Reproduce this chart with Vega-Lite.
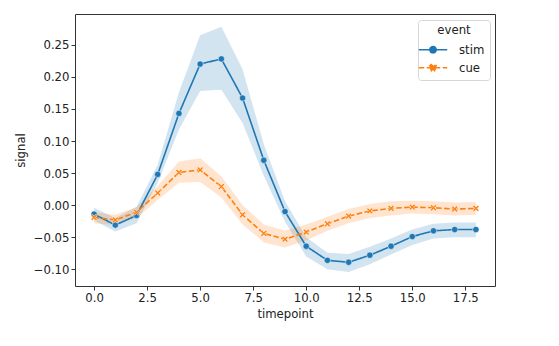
{
  "$schema": "https://vega.github.io/schema/vega-lite/v6.json",
  "width": 420,
  "height": 272,
  "autosize": "none",
  "padding": {"left": 75, "top": 14, "right": 64, "bottom": 60},
  "background": "white",
  "config": {
    "font": "DejaVu Sans",
    "view": {"stroke": "#333333", "strokeWidth": 1},
    "axis": {"labelFontSize": 11.7, "titleFontSize": 11.7, "titleFontWeight": "normal", "labelColor": "#222222", "titleColor": "#222222", "tickColor": "#333333", "domain": false, "grid": false, "tickSize": 4, "labelOverlap": false, "labelPadding": 2},
    "axisX": {"titlePadding": 5},
    "axisY": {"titlePadding": 7},
    "legend": {"orient": "top-right", "offset": 5.5, "fillColor": "white", "strokeColor": "#d6d6d6", "padding": 5, "cornerRadius": 3, "titleAnchor": "middle", "titleFontSize": 11.7, "titleFontWeight": "normal", "labelFontSize": 11.7, "titleColor": "#222222", "labelColor": "#222222", "symbolSize": 324, "rowPadding": 1, "titlePadding": 3, "labelOffset": 16}
  },
  "data": {"values": [
    {"timepoint": 0, "event": "stim", "signal": -0.014, "lo": -0.024, "hi": -0.004},
    {"timepoint": 1, "event": "stim", "signal": -0.031, "lo": -0.041, "hi": -0.020},
    {"timepoint": 2, "event": "stim", "signal": -0.016, "lo": -0.028, "hi": -0.003},
    {"timepoint": 3, "event": "stim", "signal": 0.048, "lo": 0.035, "hi": 0.063},
    {"timepoint": 4, "event": "stim", "signal": 0.143, "lo": 0.118, "hi": 0.176},
    {"timepoint": 5, "event": "stim", "signal": 0.220, "lo": 0.178, "hi": 0.265},
    {"timepoint": 6, "event": "stim", "signal": 0.228, "lo": 0.180, "hi": 0.278},
    {"timepoint": 7, "event": "stim", "signal": 0.167, "lo": 0.128, "hi": 0.212},
    {"timepoint": 8, "event": "stim", "signal": 0.070, "lo": 0.046, "hi": 0.095},
    {"timepoint": 9, "event": "stim", "signal": -0.010, "lo": -0.026, "hi": 0.006},
    {"timepoint": 10, "event": "stim", "signal": -0.064, "lo": -0.080, "hi": -0.050},
    {"timepoint": 11, "event": "stim", "signal": -0.086, "lo": -0.100, "hi": -0.074},
    {"timepoint": 12, "event": "stim", "signal": -0.089, "lo": -0.104, "hi": -0.076},
    {"timepoint": 13, "event": "stim", "signal": -0.078, "lo": -0.092, "hi": -0.065},
    {"timepoint": 14, "event": "stim", "signal": -0.064, "lo": -0.077, "hi": -0.052},
    {"timepoint": 15, "event": "stim", "signal": -0.049, "lo": -0.062, "hi": -0.038},
    {"timepoint": 16, "event": "stim", "signal": -0.040, "lo": -0.052, "hi": -0.029},
    {"timepoint": 17, "event": "stim", "signal": -0.038, "lo": -0.050, "hi": -0.027},
    {"timepoint": 18, "event": "stim", "signal": -0.038, "lo": -0.050, "hi": -0.027},
    {"timepoint": 0, "event": "cue", "signal": -0.019, "lo": -0.028, "hi": -0.011},
    {"timepoint": 1, "event": "cue", "signal": -0.023, "lo": -0.031, "hi": -0.015},
    {"timepoint": 2, "event": "cue", "signal": -0.011, "lo": -0.020, "hi": -0.003},
    {"timepoint": 3, "event": "cue", "signal": 0.019, "lo": 0.008, "hi": 0.030},
    {"timepoint": 4, "event": "cue", "signal": 0.051, "lo": 0.035, "hi": 0.068},
    {"timepoint": 5, "event": "cue", "signal": 0.055, "lo": 0.036, "hi": 0.073},
    {"timepoint": 6, "event": "cue", "signal": 0.029, "lo": 0.012, "hi": 0.045},
    {"timepoint": 7, "event": "cue", "signal": -0.015, "lo": -0.030, "hi": 0.000},
    {"timepoint": 8, "event": "cue", "signal": -0.044, "lo": -0.058, "hi": -0.030},
    {"timepoint": 9, "event": "cue", "signal": -0.053, "lo": -0.066, "hi": -0.040},
    {"timepoint": 10, "event": "cue", "signal": -0.042, "lo": -0.055, "hi": -0.030},
    {"timepoint": 11, "event": "cue", "signal": -0.029, "lo": -0.040, "hi": -0.018},
    {"timepoint": 12, "event": "cue", "signal": -0.017, "lo": -0.028, "hi": -0.006},
    {"timepoint": 13, "event": "cue", "signal": -0.009, "lo": -0.020, "hi": 0.002},
    {"timepoint": 14, "event": "cue", "signal": -0.005, "lo": -0.016, "hi": 0.006},
    {"timepoint": 15, "event": "cue", "signal": -0.003, "lo": -0.013, "hi": 0.007},
    {"timepoint": 16, "event": "cue", "signal": -0.004, "lo": -0.014, "hi": 0.006},
    {"timepoint": 17, "event": "cue", "signal": -0.006, "lo": -0.016, "hi": 0.004},
    {"timepoint": 18, "event": "cue", "signal": -0.005, "lo": -0.015, "hi": 0.005}
  ]},
  "encoding": {
    "x": {"field": "timepoint", "type": "quantitative", "title": "timepoint",
      "scale": {"domain": [-0.9, 18.9], "nice": false, "zero": false},
      "axis": {"values": [0, 2.5, 5, 7.5, 10, 12.5, 15, 17.5], "format": ".1f"}},
    "color": {"field": "event", "type": "nominal", "title": "event",
      "scale": {"domain": ["stim", "cue"], "range": ["#1f77b4", "#ff7f0e"]},
      "legend": {
        "symbolType": {"expr": "datum.value === 'stim' ? 'M-1.58,0H1.58M-0.35,0A0.35,0.35 0 1,1 0.35,0A0.35,0.35 0 1,1 -0.35,0Z' : 'M-1.58,0H1.58M-0.35,-0.21L-0.21,-0.35L0,-0.14L0.21,-0.35L0.35,-0.21L0.14,0L0.35,0.21L0.21,0.35L0,0.14L-0.21,0.35L-0.35,0.21L-0.14,0Z'"},
        "symbolDash": {"expr": "datum.value === 'cue' ? [5.5, 2.5] : [1, 0]"},
        "symbolStrokeWidth": 1.6,
        "symbolOpacity": 1,
        "encode": {"symbols": {"update": {
        "fill": {"scale": "color", "field": "value"},
        "stroke": {"scale": "color", "field": "value"},
        "opacity": {"value": 1},
        "fillOpacity": {"value": 1},
        "strokeOpacity": {"value": 1}
      }}}}}
  },
  "layer": [
    {
      "mark": {"type": "area", "opacity": 0.2},
      "encoding": {
        "y": {"field": "lo", "type": "quantitative", "title": "signal",
          "scale": {"domain": [-0.126, 0.298], "nice": false, "zero": false},
          "axis": {"values": [-0.10, -0.05, 0, 0.05, 0.10, 0.15, 0.20, 0.25], "format": ".2f"}},
        "y2": {"field": "hi"}
      }
    },
    {
      "mark": {"type": "line", "strokeWidth": 1.6},
      "encoding": {
        "y": {"field": "signal", "type": "quantitative", "title": "signal",
          "scale": {"domain": [-0.126, 0.298], "nice": false, "zero": false},
          "axis": {"values": [-0.10, -0.05, 0, 0.05, 0.10, 0.15, 0.20, 0.25], "format": ".2f"}},
        "strokeDash": {"field": "event", "type": "nominal", "legend": null,
          "scale": {"domain": ["stim", "cue"], "range": [[1, 0], [5.5, 2.5]]}}
      }
    },
    {
      "mark": {"type": "point", "filled": true, "opacity": 1, "size": 40, "stroke": "white", "strokeWidth": 0.5},
      "encoding": {
        "y": {"field": "signal", "type": "quantitative", "title": "signal",
          "scale": {"domain": [-0.126, 0.298], "nice": false, "zero": false},
          "axis": {"values": [-0.10, -0.05, 0, 0.05, 0.10, 0.15, 0.20, 0.25], "format": ".2f"}},
        "shape": {"condition": {"test": "datum.event === 'cue'", "value": "M-1,-0.6L-0.6,-1L0,-0.4L0.6,-1L1,-0.6L0.4,0L1,0.6L0.6,1L0,0.4L-0.6,1L-1,0.6L-0.4,0Z"}, "value": "circle"}
      }
    }
  ]
}
